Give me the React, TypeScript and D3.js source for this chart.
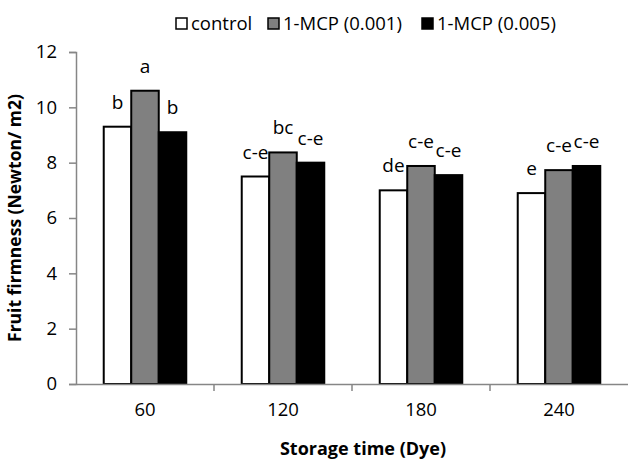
import * as d3 from 'd3';
import React, { useRef, useEffect } from 'react';

const categories = ['60', '120', '180', '240'];
const seriesNames = ['control', '1-MCP (0.001)', '1-MCP (0.005)'];
const control = [9.3, 7.5, 7.0, 6.9];
const mcp001 = [10.6, 8.37, 7.88, 7.73];
const mcp005 = [9.1, 8.0, 7.55, 7.88];
const letters = [
    ['b', 'c-e', 'de', 'e'],
    ['a', 'bc', 'c-e', 'c-e'],
    ['b', 'c-e', 'c-e', 'c-e'],
];
const yTicks = [0, 2, 4, 6, 8, 10, 12];

const fills = ['#ffffff', '#808080', '#000000'];
const font = '"Open Sans", sans-serif';

const App = () => {
    const svgRef = useRef<SVGSVGElement>(null);
    const width = 628;
    const height = 461;

    useEffect(() => {
        draw();
    }, []);

    const draw = () => {
        const svg = d3.select(svgRef.current);
        svg.selectAll('*').remove();

        const margin = { top: 52, left: 76, bottom: 77 };
        const values = [control, mcp001, mcp005];

        const xScale = d3
            .scaleBand()
            .range([margin.left, width])
            .domain(categories)
            .paddingInner(0.402)
            .paddingOuter(0.201);

        const xInner = d3
            .scaleBand()
            .range([0, xScale.bandwidth()])
            .domain(seriesNames);

        const yScale = d3
            .scaleLinear()
            .range([height - margin.bottom, margin.top])
            .domain([0, 12]);

        const axisColor = '#868686';

        // y axis
        const yAxis = d3.axisLeft(yScale).tickValues(yTicks).tickSize(7).tickPadding(12);
        const gy = svg.append('g')
            .attr('transform', `translate(${margin.left},0)`)
            .call(yAxis);
        gy.select('.domain').attr('stroke', axisColor).attr('stroke-width', 1.5);
        gy.selectAll('.tick line').attr('stroke', axisColor).attr('stroke-width', 1.5);
        gy.selectAll('.tick text')
            .attr('font-family', font)
            .attr('font-size', 18.5)
            .attr('fill', '#000');

        // bars
        seriesNames.forEach((name, si) => {
            svg.append('g')
                .selectAll('rect')
                .data(values[si])
                .enter()
                .append('rect')
                .attr('x', (d, i) => (xScale(categories[i]) as number) + (xInner(name) as number))
                .attr('y', (d) => yScale(d))
                .attr('width', xInner.bandwidth())
                .attr('height', (d) => yScale(0) - yScale(d))
                .attr('fill', fills[si])
                .attr('stroke', '#000')
                .attr('stroke-width', 2);

            svg.append('g')
                .selectAll('text')
                .data(values[si])
                .enter()
                .append('text')
                .attr('x', (d, i) => (xScale(categories[i]) as number) + (xInner(name) as number) + xInner.bandwidth() / 2)
                .attr('y', (d) => yScale(d) - 18)
                .attr('text-anchor', 'middle')
                .attr('font-family', font)
                .attr('font-size', 19)
                .text((d, i) => letters[si][i]);
        });

        // x axis
        const xAxis = d3.axisBottom(xScale).tickSize(0).tickPadding(19);
        const gx = svg.append('g')
            .attr('transform', `translate(0,${yScale(0)})`)
            .call(xAxis);
        gx.select('.domain').attr('stroke', axisColor).attr('stroke-width', 1.5);
        gx.selectAll('.tick text')
            .attr('font-family', font)
            .attr('font-size', 18.5)
            .attr('fill', '#000');
        gx.selectAll('.sep')
            .data(categories.slice(1))
            .enter()
            .append('line')
            .attr('class', 'sep')
            .attr('x1', (d) => (xScale(d) as number) - xScale.step() * xScale.paddingInner() / 2)
            .attr('x2', (d) => (xScale(d) as number) - xScale.step() * xScale.paddingInner() / 2)
            .attr('y1', 0)
            .attr('y2', 7)
            .attr('stroke', axisColor)
            .attr('stroke-width', 1.5);

        // axis titles
        svg.append('text')
            .attr('transform', `translate(21, ${(yScale(0) + yScale(12)) / 2}) rotate(-90)`)
            .attr('text-anchor', 'middle')
            .attr('font-family', font)
            .attr('font-weight', 'bold')
            .attr('font-size', 17.5)
            .text('Fruit firmness (Newton/ m2)');

        svg.append('text')
            .attr('x', 363)
            .attr('y', 455)
            .attr('text-anchor', 'middle')
            .attr('font-family', font)
            .attr('font-weight', 'bold')
            .attr('font-size', 18)
            .text('Storage time (Dye)');

        // legend
        const legendX = [176, 268, 422];
        const legend = svg.append('g');
        seriesNames.forEach((name, si) => {
            legend.append('rect')
                .attr('x', legendX[si])
                .attr('y', 18)
                .attr('width', 11)
                .attr('height', 11)
                .attr('fill', fills[si])
                .attr('stroke', '#000')
                .attr('stroke-width', 1.5);
            legend.append('text')
                .attr('x', legendX[si] + 15)
                .attr('y', 30)
                .attr('font-family', font)
                .attr('font-size', 18.5)
                .text(name);
        });
    };

    return (
        <svg ref={svgRef} width={width} height={height}
            style={{ position: 'absolute', top: 0, left: 0, background: '#fff' }}>
        </svg>
    );
};

export default App;
